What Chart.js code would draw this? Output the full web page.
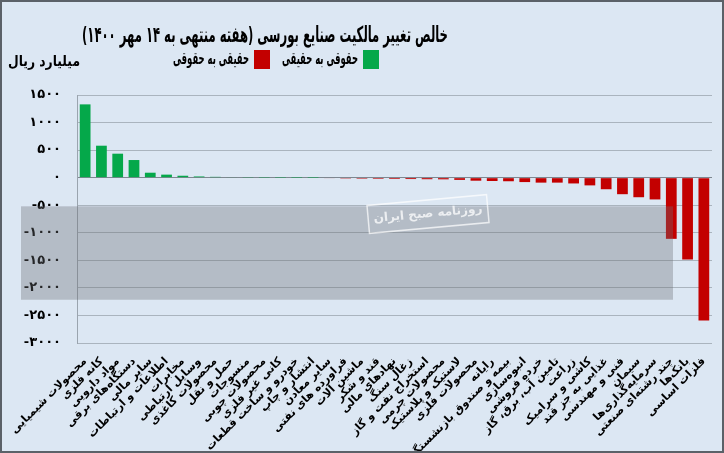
<!DOCTYPE html>
<html>
<head>
<meta charset="utf-8">
<script src="https://cdn.jsdelivr.net/npm/chart.js@4"></script>
<style>
  html, body { margin: 0; padding: 0; background: #dce7f3; }
  #wrap { width: 720px; height: 449px; border: 2px solid #5b6168; background: #dce7f3; }
</style>
</head>
<body>
<div id="wrap"><canvas id="chart" width="720" height="449"></canvas></div>
<script>
// categories (left to right)
var industries = [
    "محصولات شیمیایی", "کانه فلزی", "مواد دارویی", "دستگاه‌های برقی", "سایر مالی",
    "اطلاعات و ارتباطات", "مخابرات", "وسایل ارتباطی", "محصولات کاغذی", "حمل و نقل",
    "منسوجات", "محصولات چوبی", "کانی غیر فلزی", "خودرو و ساخت قطعات", "انتشار و چاپ",
    "سایر معادن", "فراورده های نفتی", "ماشین آلات", "قند و شکر", "نهادهای مالی",
    "زغال سنگ", "استخراج نفت و گاز", "محصولات چرمی", "لاستیک و پلاستیک", "محصولات فلزی",
    "رایانه", "بیمه و صندوق بازنشستگی", "انبوه‌سازی", "خرده فروشی", "تامین آب، برق، گاز",
    "زراعت", "کاشی و سرامیک", "غذایی به جز قند", "فنی و مهندسی", "سیمان",
    "سرمایه‌گذاری‌ها", "چند رشته‌ای صنعتی", "بانک‌ها", "فلزات اساسی"
];

// حقوقی به حقیقی (green)
var legalToReal = [1330, 580, 435, 320, 90, 55, 35, 22, 15, 8, 5, 3, 2, 1, 0.5,
    null, null, null, null, null, null, null, null, null, null, null, null, null,
    null, null, null, null, null, null, null, null, null, null, null];

// حقیقی به حقوقی (red)
var realToLegal = [null, null, null, null, null, null, null, null, null, null,
    null, null, null, null, null,
    -8, -15, -18, -20, -22, -25, -28, -30, -40, -55, -60, -65, -80, -90, -90,
    -105, -140, -210, -300, -355, -395, -1110, -1485, -2590];

var yTicks = [1500, 1000, 500, 0, -500, -1000, -1500, -2000, -2500, -3000];

var chartTitle = "خالص تغییر مالکیت صنایع بورسی (هفته منتهی به ۱۴ مهر ۱۴۰۰)";
var unitLabel = "میلیارد ریال";
var FONT = "'DejaVu Sans', sans-serif";

function faDigits(s) {
    return String(s).replace(/\d/g, function(d){ return "۰۱۲۳۴۵۶۷۸۹"[d]; });
}

// draws rtl text squeezed into a given width, x is the right edge
function fitText(ctx, text, right, y, width) {
    var w = ctx.measureText(text).width;
    var k = Math.min(1, width / w);
    ctx.save();
    ctx.direction = 'rtl';
    ctx.textAlign = 'right';
    ctx.translate(right, y);
    ctx.scale(k, 1);
    ctx.fillText(text, 0, 0);
    ctx.restore();
}

// title, legend, unit text and the grey newspaper band
var decorations = {
    id: 'decorations',
    afterDatasetsDraw: function(chart) {
        var ctx = chart.ctx;
        var y = chart.scales.y;
        var top = y.getPixelForValue(-520), bottom = y.getPixelForValue(-2215);
        ctx.save();
        ctx.fillStyle = 'rgba(106,108,114,0.35)';
        ctx.fillRect(19, top, 652, bottom - top);
        ctx.translate(426, 212);
        ctx.rotate(-0.09);
        ctx.strokeStyle = 'rgba(255,255,255,0.7)';
        ctx.lineWidth = 1.5;
        ctx.strokeRect(-60, -14, 120, 28);
        ctx.fillStyle = 'rgba(255,255,255,0.75)';
        ctx.font = "bold 12px " + FONT;
        ctx.textAlign = 'center';
        ctx.textBaseline = 'middle';
        ctx.fillText("روزنامه صبح ایران", 0, 0);
        ctx.restore();
    },
    afterDraw: function(chart) {
        var ctx = chart.ctx;
        ctx.save();
        ctx.fillStyle = '#000';
        ctx.textBaseline = 'middle';
        ctx.font = "bold 22px " + FONT;
        fitText(ctx, chartTitle, 446, 34, 366);

        ctx.font = "bold 15px " + FONT;
        fitText(ctx, unitLabel, 78, 60, 72);

        // legend, right to left
        ctx.font = "bold 17px " + FONT;
        var x = 377;
        chart.data.datasets.forEach(function(ds) {
            ctx.fillStyle = ds.backgroundColor;
            ctx.fillRect(x - 16, 48, 16, 19);
            ctx.fillStyle = '#000';
            fitText(ctx, ds.label, x - 21, 58, 76);
            x -= 21 + 76 + 12;
        });
        ctx.restore();
    }
};

new Chart(document.getElementById('chart'), {
    type: 'bar',
    data: {
        labels: industries,
        datasets: [
            { label: "حقوقی به حقیقی", data: legalToReal, backgroundColor: '#05a84a',
              barPercentage: 0.66, categoryPercentage: 1 },
            { label: "حقیقی به حقوقی", data: realToLegal, backgroundColor: '#c30000',
              barPercentage: 0.66, categoryPercentage: 1 }
        ]
    },
    options: {
        responsive: false,
        animation: false,
        layout: { padding: { top: 93, right: 10, left: 0, bottom: 0 } },
        plugins: {
            legend: { display: false },
            title: { display: false },
            tooltip: { enabled: false }
        },
        scales: {
            x: {
                stacked: true,
                grid: { display: false },
                border: { display: false },
                ticks: {
                    autoSkip: false, maxRotation: 45, minRotation: 45,
                    color: '#000', padding: 4,
                    font: { family: FONT, size: 11, weight: 'bold' }
                },
                afterFit: function(scale) { scale.height = 108; }
            },
            y: {
                stacked: true,
                min: -3000, max: 1500,
                afterBuildTicks: function(scale) {
                    scale.ticks = yTicks.map(function(v){ return { value: v }; });
                },
                afterFit: function(scale) { scale.width = 75; },
                border: { display: true, color: '#9aa4ae' },
                grid: {
                    color: function(c) { return c.tick && c.tick.value === 0 ? '#7e8790' : '#aab4be'; },
                    drawTicks: false
                },
                ticks: {
                    color: '#000', padding: 16,
                    font: { family: FONT, size: 13, weight: 'bold' },
                    callback: function(v) { return faDigits(v); }
                }
            }
        }
    },
    plugins: [decorations]
});
</script>
</body>
</html>
